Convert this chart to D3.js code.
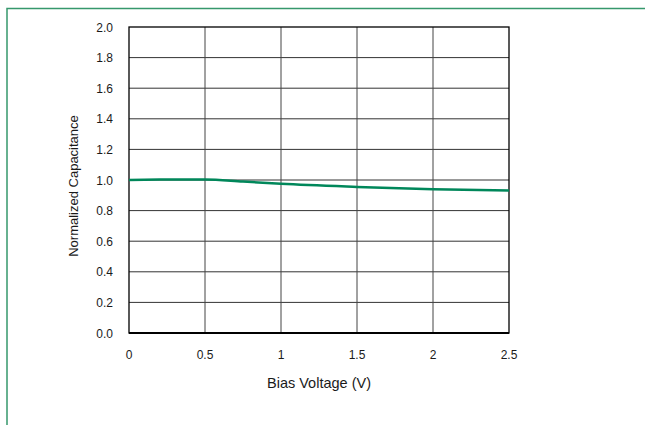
<!DOCTYPE html>
<html>
<head>
<meta charset="utf-8">
<script src="https://cdn.jsdelivr.net/npm/d3@7"></script>
<style>
  body { margin: 0; background: #fff; }
  svg { display: block; }
  .tick-label { font-family: "Liberation Sans", Arial, sans-serif; font-size: 12px; fill: #1a1a1a; }
  .axis-title { font-family: "Liberation Sans", Arial, sans-serif; fill: #1a1a1a; }
</style>
</head>
<body>
<svg id="chart" width="645" height="425"></svg>
<script>
// values
const biasVoltage = [0, 0.25, 0.5, 0.75, 1.0, 1.5, 2.0, 2.5];
const capacitance = [1.0, 1.003, 1.004, 0.99, 0.975, 0.955, 0.94, 0.932];
const xTicks = [0, 0.5, 1, 1.5, 2, 2.5];
const xTickLabels = ["0", "0.5", "1", "1.5", "2", "2.5"];
const yTicks = [0, 0.2, 0.4, 0.6, 0.8, 1.0, 1.2, 1.4, 1.6, 1.8, 2.0];

const svg = d3.select("#chart");

// green outer frame (runs off the right and bottom edges)
svg.append("rect")
    .attr("x", 7).attr("y", 8.5)
    .attr("width", 700).attr("height", 500)
    .attr("fill", "none")
    .attr("stroke", "#36986c")
    .attr("stroke-width", 1.5);

const plot = { left: 129, right: 509, top: 27, bottom: 333 };

const x = d3.scaleLinear().domain([0, 2.5]).range([plot.left, plot.right]);
const y = d3.scaleLinear().domain([0, 2.0]).range([plot.bottom, plot.top]);

const g = svg.append("g");

// grid
g.selectAll(".hgrid")
    .data(yTicks.slice(1, -1))
    .join("line")
    .attr("x1", plot.left).attr("x2", plot.right)
    .attr("y1", d => y(d)).attr("y2", d => y(d))
    .attr("stroke", "#333").attr("stroke-width", 1);

g.selectAll(".vgrid")
    .data(xTicks.slice(1, -1))
    .join("line")
    .attr("x1", d => x(d)).attr("x2", d => x(d))
    .attr("y1", plot.top).attr("y2", plot.bottom)
    .attr("stroke", "#444").attr("stroke-width", 1);

// plot border
g.append("rect")
    .attr("x", plot.left).attr("y", plot.top)
    .attr("width", plot.right - plot.left).attr("height", plot.bottom - plot.top)
    .attr("fill", "none").attr("stroke", "#000").attr("stroke-width", 1.3);

g.append("line")
    .attr("x1", plot.left).attr("x2", plot.right)
    .attr("y1", plot.bottom).attr("y2", plot.bottom)
    .attr("stroke", "#000").attr("stroke-width", 2);

// tick labels
g.selectAll(".ylab")
    .data(yTicks)
    .join("text")
    .attr("class", "tick-label")
    .attr("x", 113)
    .attr("y", d => y(d) + 4.5)
    .attr("text-anchor", "end")
    .text(d => d.toFixed(1));

g.selectAll(".xlab")
    .data(xTicks)
    .join("text")
    .attr("class", "tick-label")
    .attr("x", d => x(d))
    .attr("y", 359)
    .attr("text-anchor", "middle")
    .text((d, i) => xTickLabels[i]);

// axis titles
svg.append("text")
    .attr("class", "axis-title")
    .attr("x", (plot.left + plot.right) / 2)
    .attr("y", 388)
    .attr("text-anchor", "middle")
    .style("font-size", "14.5px")
    .text("Bias Voltage (V)");

svg.append("text")
    .attr("class", "axis-title")
    .attr("transform", `translate(78,${(plot.top + plot.bottom) / 2 + 6}) rotate(-90)`)
    .attr("text-anchor", "middle")
    .style("font-size", "13px")
    .text("Normalized Capacitance");

// curve
const line = d3.line()
    .x((d, i) => x(biasVoltage[i]))
    .y(d => y(d))
    .curve(d3.curveMonotoneX);

g.append("path")
    .datum(capacitance)
    .attr("d", line)
    .attr("fill", "none")
    .attr("stroke", "#00875a")
    .attr("stroke-width", 2.5);
</script>
</body>
</html>
